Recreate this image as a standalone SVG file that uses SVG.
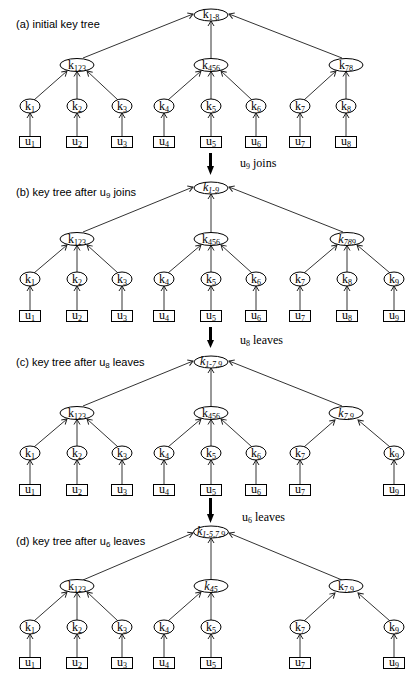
<svg xmlns="http://www.w3.org/2000/svg" width="414" height="676" viewBox="0 0 414 676">
<defs>
<marker id="a" viewBox="-7 -5 9 10" refX="0" refY="0" markerWidth="9" markerHeight="10" markerUnits="userSpaceOnUse" orient="auto" overflow="visible">
<path d="M-5,-3 L0,0 L-5,3" fill="none" stroke="#222" stroke-width="1"/>
</marker>
</defs>
<style>
.e{fill:#fff;stroke:#000;stroke-width:1}
.b{fill:#fff;stroke:#000;stroke-width:1}
.t{font-family:"Liberation Serif","Times New Roman",serif;font-size:12px;fill:#000;text-anchor:middle}
.l{font-family:"Liberation Serif","Times New Roman",serif;font-size:12px;fill:#000}
.s{font-size:8px}
.i{font-style:italic}
.ttl{font-family:"Liberation Sans",Arial,sans-serif;font-size:11px;fill:#000}
.ss{font-size:8px}
.c line{stroke:#333;stroke-width:1;marker-end:url(#a)}
.big{stroke:#000;stroke-width:3}
</style>
<rect width="414" height="676" fill="#fff"/>

<!-- Titles and step labels -->
<text class="ttl" x="16" y="28">(a) initial key tree</text>
<text class="ttl" x="16" y="196">(b) key tree after u<tspan class="ss" dy="2">9</tspan><tspan dy="-2"> joins</tspan></text>
<text class="ttl" x="16" y="366">(c) key tree after u<tspan class="ss" dy="2">8</tspan><tspan dy="-2"> leaves</tspan></text>
<text class="ttl" x="16" y="545">(d) key tree after u<tspan class="ss" dy="2">6</tspan><tspan dy="-2"> leaves</tspan></text>

<g id="step1"><line class="big" x1="210.5" y1="153" x2="210.5" y2="167"/><polygon points="207,166 214,166 210.5,175"/></g>
<text class="l" x="240" y="167">u<tspan class="s" dy="2">9</tspan><tspan dy="-2"> joins</tspan></text>
<g id="step2"><line class="big" x1="210.5" y1="327" x2="210.5" y2="341"/><polygon points="207,340 214,340 210.5,348"/></g>
<text class="l" x="240" y="344">u<tspan class="s" dy="2">8</tspan><tspan dy="-2"> leaves</tspan></text>
<g id="step3"><line class="big" x1="210.5" y1="498" x2="210.5" y2="515"/><polygon points="207,514 214,514 210.5,523"/></g>
<text class="l" x="242" y="521">u<tspan class="s" dy="2">6</tspan><tspan dy="-2"> leaves</tspan></text>

<!-- Connectors -->
<g id="connectors" class="c">
<!-- (a) -->
<line x1="30" y1="140" x2="30" y2="113"/>
<line x1="77" y1="140" x2="77" y2="113"/>
<line x1="122" y1="140" x2="122" y2="113"/>
<line x1="164" y1="140" x2="164" y2="113"/>
<line x1="211" y1="140" x2="211" y2="113"/>
<line x1="256" y1="140" x2="256" y2="113"/>
<line x1="300" y1="140" x2="300" y2="113"/>
<line x1="346" y1="140" x2="346" y2="113"/>
<line x1="34" y1="100" x2="67" y2="71"/>
<line x1="77" y1="99" x2="77" y2="71.5"/>
<line x1="118" y1="100" x2="87" y2="71"/>
<line x1="168" y1="100" x2="201" y2="71"/>
<line x1="211" y1="99" x2="211" y2="71.5"/>
<line x1="252" y1="100" x2="221" y2="71"/>
<line x1="304" y1="100" x2="336" y2="71"/>
<line x1="346" y1="99" x2="346" y2="71.5"/>
<line x1="83" y1="58" x2="193" y2="14"/>
<line x1="211" y1="58" x2="211" y2="21"/>
<line x1="342" y1="58" x2="229" y2="14"/>
<!-- (b) -->
<line x1="30" y1="314" x2="30" y2="286"/>
<line x1="77" y1="314" x2="77" y2="286"/>
<line x1="122" y1="314" x2="122" y2="286"/>
<line x1="164" y1="314" x2="164" y2="286"/>
<line x1="211" y1="314" x2="211" y2="286"/>
<line x1="256" y1="314" x2="256" y2="286"/>
<line x1="300" y1="314" x2="300" y2="286"/>
<line x1="347" y1="314" x2="347" y2="286"/>
<line x1="394" y1="314" x2="394" y2="286"/>
<line x1="34" y1="273" x2="67" y2="245"/>
<line x1="77" y1="272" x2="77" y2="245.5"/>
<line x1="118" y1="273" x2="87" y2="245"/>
<line x1="168" y1="273" x2="201" y2="245"/>
<line x1="211" y1="272" x2="211" y2="245.5"/>
<line x1="252" y1="273" x2="221" y2="245"/>
<line x1="304" y1="273" x2="337" y2="245"/>
<line x1="347" y1="272" x2="347" y2="245.5"/>
<line x1="390" y1="273" x2="357" y2="245"/>
<line x1="83" y1="232" x2="193" y2="187"/>
<line x1="211" y1="232" x2="211" y2="194"/>
<line x1="343" y1="232" x2="229" y2="187"/>
<!-- (c) -->
<line x1="30" y1="488" x2="30" y2="460"/>
<line x1="77" y1="488" x2="77" y2="460"/>
<line x1="122" y1="488" x2="122" y2="460"/>
<line x1="164" y1="488" x2="164" y2="460"/>
<line x1="211" y1="488" x2="211" y2="460"/>
<line x1="256" y1="488" x2="256" y2="460"/>
<line x1="300" y1="488" x2="300" y2="460"/>
<line x1="394" y1="488" x2="394" y2="460"/>
<line x1="34" y1="447" x2="67" y2="419"/>
<line x1="77" y1="446" x2="77" y2="419.5"/>
<line x1="118" y1="447" x2="87" y2="419"/>
<line x1="168" y1="447" x2="201" y2="419"/>
<line x1="211" y1="446" x2="211" y2="419.5"/>
<line x1="252" y1="447" x2="221" y2="419"/>
<line x1="304" y1="447" x2="335" y2="420"/>
<line x1="390" y1="447" x2="358" y2="420"/>
<line x1="83" y1="406" x2="193" y2="361"/>
<line x1="211" y1="406" x2="211" y2="368"/>
<line x1="342" y1="406" x2="229" y2="361"/>
<!-- (d) -->
<line x1="30" y1="661" x2="30" y2="634"/>
<line x1="77" y1="661" x2="77" y2="634"/>
<line x1="122" y1="661" x2="122" y2="634"/>
<line x1="164" y1="661" x2="164" y2="634"/>
<line x1="211" y1="661" x2="211" y2="634"/>
<line x1="300" y1="661" x2="300" y2="634"/>
<line x1="394" y1="661" x2="394" y2="634"/>
<line x1="34" y1="621" x2="67" y2="592"/>
<line x1="77" y1="620" x2="77" y2="592.5"/>
<line x1="118" y1="621" x2="87" y2="592"/>
<line x1="168" y1="621" x2="201" y2="592"/>
<line x1="211" y1="620" x2="211" y2="592.5"/>
<line x1="304" y1="621" x2="335" y2="593"/>
<line x1="390" y1="621" x2="358" y2="593"/>
<line x1="83" y1="580" x2="193" y2="533"/>
<line x1="211" y1="579" x2="211" y2="538"/>
<line x1="342" y1="580" x2="229" y2="533"/>
</g>

<!-- Tree (a) -->
<g id="a-root"><ellipse class="e" cx="211" cy="15" rx="17" ry="6"/><text class="t" x="211" y="18">k<tspan class="s" dy="2">1-8</tspan></text></g>
<g id="a-k123"><ellipse class="e" cx="77" cy="65" rx="17" ry="6.5"/><text class="t" x="77" y="68.5">k<tspan class="s" dy="2.5">123</tspan></text></g>
<g id="a-k456"><ellipse class="e" cx="211" cy="65" rx="17" ry="6.5"/><text class="t" x="211" y="68.5">k<tspan class="s" dy="2.5">456</tspan></text></g>
<g id="a-k78"><ellipse class="e" cx="346" cy="65" rx="17" ry="6.5"/><text class="t" x="346" y="68.5">k<tspan class="s" dy="2.5">78</tspan></text></g>
<g id="a-k1"><ellipse class="e" cx="30" cy="106" rx="10" ry="7"/><text class="t" x="30" y="109.5">k<tspan class="s" dy="2">1</tspan></text></g>
<g id="a-k2"><ellipse class="e" cx="77" cy="106" rx="10" ry="7"/><text class="t" x="77" y="109.5">k<tspan class="s" dy="2">2</tspan></text></g>
<g id="a-k3"><ellipse class="e" cx="122" cy="106" rx="10" ry="7"/><text class="t" x="122" y="109.5">k<tspan class="s" dy="2">3</tspan></text></g>
<g id="a-k4"><ellipse class="e" cx="164" cy="106" rx="10" ry="7"/><text class="t" x="164" y="109.5">k<tspan class="s" dy="2">4</tspan></text></g>
<g id="a-k5"><ellipse class="e" cx="211" cy="106" rx="10" ry="7"/><text class="t" x="211" y="109.5">k<tspan class="s" dy="2">5</tspan></text></g>
<g id="a-k6"><ellipse class="e" cx="256" cy="106" rx="10" ry="7"/><text class="t" x="256" y="109.5">k<tspan class="s" dy="2">6</tspan></text></g>
<g id="a-k7"><ellipse class="e" cx="300" cy="106" rx="10" ry="7"/><text class="t" x="300" y="109.5">k<tspan class="s" dy="2">7</tspan></text></g>
<g id="a-k8"><ellipse class="e" cx="346" cy="106" rx="10" ry="7"/><text class="t" x="346" y="109.5">k<tspan class="s" dy="2">8</tspan></text></g>
<g id="a-u1"><rect class="b" x="19.5" y="136.5" width="21" height="11"/><text class="t" x="30" y="145">u<tspan class="s" dy="2">1</tspan></text></g>
<g id="a-u2"><rect class="b" x="66.5" y="136.5" width="21" height="11"/><text class="t" x="77" y="145">u<tspan class="s" dy="2">2</tspan></text></g>
<g id="a-u3"><rect class="b" x="111.5" y="136.5" width="21" height="11"/><text class="t" x="122" y="145">u<tspan class="s" dy="2">3</tspan></text></g>
<g id="a-u4"><rect class="b" x="153.5" y="136.5" width="21" height="11"/><text class="t" x="164" y="145">u<tspan class="s" dy="2">4</tspan></text></g>
<g id="a-u5"><rect class="b" x="200.5" y="136.5" width="21" height="11"/><text class="t" x="211" y="145">u<tspan class="s" dy="2">5</tspan></text></g>
<g id="a-u6"><rect class="b" x="245.5" y="136.5" width="21" height="11"/><text class="t" x="256" y="145">u<tspan class="s" dy="2">6</tspan></text></g>
<g id="a-u7"><rect class="b" x="289.5" y="136.5" width="21" height="11"/><text class="t" x="300" y="145">u<tspan class="s" dy="2">7</tspan></text></g>
<g id="a-u8"><rect class="b" x="335.5" y="136.5" width="21" height="11"/><text class="t" x="346" y="145">u<tspan class="s" dy="2">8</tspan></text></g>

<!-- Tree (b) -->
<g id="b-root"><ellipse class="e" cx="211" cy="188" rx="17" ry="6"/><text class="t i" x="211" y="191">k<tspan class="s" dy="2">1-9</tspan></text></g>
<g id="b-k123"><ellipse class="e" cx="77" cy="239" rx="17" ry="6.5"/><text class="t" x="77" y="242.5">k<tspan class="s" dy="2.5">123</tspan></text></g>
<g id="b-k456"><ellipse class="e" cx="211" cy="239" rx="17" ry="6.5"/><text class="t" x="211" y="242.5">k<tspan class="s" dy="2.5">456</tspan></text></g>
<g id="b-k789"><ellipse class="e" cx="347" cy="239" rx="17" ry="6.5"/><text class="t i" x="347" y="242.5">k<tspan class="s" dy="2.5">789</tspan></text></g>
<g id="b-k1"><ellipse class="e" cx="30" cy="279" rx="10" ry="7"/><text class="t" x="30" y="282.5">k<tspan class="s" dy="2">1</tspan></text></g>
<g id="b-k2"><ellipse class="e" cx="77" cy="279" rx="10" ry="7"/><text class="t" x="77" y="282.5">k<tspan class="s" dy="2">2</tspan></text></g>
<g id="b-k3"><ellipse class="e" cx="122" cy="279" rx="10" ry="7"/><text class="t" x="122" y="282.5">k<tspan class="s" dy="2">3</tspan></text></g>
<g id="b-k4"><ellipse class="e" cx="164" cy="279" rx="10" ry="7"/><text class="t" x="164" y="282.5">k<tspan class="s" dy="2">4</tspan></text></g>
<g id="b-k5"><ellipse class="e" cx="211" cy="279" rx="10" ry="7"/><text class="t" x="211" y="282.5">k<tspan class="s" dy="2">5</tspan></text></g>
<g id="b-k6"><ellipse class="e" cx="256" cy="279" rx="10" ry="7"/><text class="t" x="256" y="282.5">k<tspan class="s" dy="2">6</tspan></text></g>
<g id="b-k7"><ellipse class="e" cx="300" cy="279" rx="10" ry="7"/><text class="t" x="300" y="282.5">k<tspan class="s" dy="2">7</tspan></text></g>
<g id="b-k8"><ellipse class="e" cx="347" cy="279" rx="10" ry="7"/><text class="t" x="347" y="282.5">k<tspan class="s" dy="2">8</tspan></text></g>
<g id="b-k9"><ellipse class="e" cx="394" cy="279" rx="10" ry="7"/><text class="t" x="394" y="282.5">k<tspan class="s" dy="2">9</tspan></text></g>
<g id="b-u1"><rect class="b" x="19.5" y="310.5" width="21" height="11"/><text class="t" x="30" y="319">u<tspan class="s" dy="2">1</tspan></text></g>
<g id="b-u2"><rect class="b" x="66.5" y="310.5" width="21" height="11"/><text class="t" x="77" y="319">u<tspan class="s" dy="2">2</tspan></text></g>
<g id="b-u3"><rect class="b" x="111.5" y="310.5" width="21" height="11"/><text class="t" x="122" y="319">u<tspan class="s" dy="2">3</tspan></text></g>
<g id="b-u4"><rect class="b" x="153.5" y="310.5" width="21" height="11"/><text class="t" x="164" y="319">u<tspan class="s" dy="2">4</tspan></text></g>
<g id="b-u5"><rect class="b" x="200.5" y="310.5" width="21" height="11"/><text class="t" x="211" y="319">u<tspan class="s" dy="2">5</tspan></text></g>
<g id="b-u6"><rect class="b" x="245.5" y="310.5" width="21" height="11"/><text class="t" x="256" y="319">u<tspan class="s" dy="2">6</tspan></text></g>
<g id="b-u7"><rect class="b" x="289.5" y="310.5" width="21" height="11"/><text class="t" x="300" y="319">u<tspan class="s" dy="2">7</tspan></text></g>
<g id="b-u8"><rect class="b" x="336.5" y="310.5" width="21" height="11"/><text class="t" x="347" y="319">u<tspan class="s" dy="2">8</tspan></text></g>
<g id="b-u9"><rect class="b" x="383.5" y="310.5" width="21" height="11"/><text class="t" x="394" y="319">u<tspan class="s" dy="2">9</tspan></text></g>

<!-- Tree (c) -->
<g id="c-root"><ellipse class="e" cx="211" cy="362" rx="17" ry="6"/><text class="t i" x="211" y="365">k<tspan class="s" dy="2">1-7,9</tspan></text></g>
<g id="c-k123"><ellipse class="e" cx="77" cy="413" rx="17" ry="6.5"/><text class="t" x="77" y="416.5">k<tspan class="s" dy="2.5">123</tspan></text></g>
<g id="c-k456"><ellipse class="e" cx="211" cy="413" rx="17" ry="6.5"/><text class="t" x="211" y="416.5">k<tspan class="s" dy="2.5">456</tspan></text></g>
<g id="c-k79"><ellipse class="e" cx="346" cy="413" rx="17" ry="6.5"/><text class="t i" x="346" y="416.5">k<tspan class="s" dy="2.5">7,9</tspan></text></g>
<g id="c-k1"><ellipse class="e" cx="30" cy="453" rx="10" ry="7"/><text class="t" x="30" y="456.5">k<tspan class="s" dy="2">1</tspan></text></g>
<g id="c-k2"><ellipse class="e" cx="77" cy="453" rx="10" ry="7"/><text class="t" x="77" y="456.5">k<tspan class="s" dy="2">2</tspan></text></g>
<g id="c-k3"><ellipse class="e" cx="122" cy="453" rx="10" ry="7"/><text class="t" x="122" y="456.5">k<tspan class="s" dy="2">3</tspan></text></g>
<g id="c-k4"><ellipse class="e" cx="164" cy="453" rx="10" ry="7"/><text class="t" x="164" y="456.5">k<tspan class="s" dy="2">4</tspan></text></g>
<g id="c-k5"><ellipse class="e" cx="211" cy="453" rx="10" ry="7"/><text class="t" x="211" y="456.5">k<tspan class="s" dy="2">5</tspan></text></g>
<g id="c-k6"><ellipse class="e" cx="256" cy="453" rx="10" ry="7"/><text class="t" x="256" y="456.5">k<tspan class="s" dy="2">6</tspan></text></g>
<g id="c-k7"><ellipse class="e" cx="300" cy="453" rx="10" ry="7"/><text class="t" x="300" y="456.5">k<tspan class="s" dy="2">7</tspan></text></g>
<g id="c-k9"><ellipse class="e" cx="394" cy="453" rx="10" ry="7"/><text class="t" x="394" y="456.5">k<tspan class="s" dy="2">9</tspan></text></g>
<g id="c-u1"><rect class="b" x="19.5" y="484.5" width="21" height="11"/><text class="t" x="30" y="493">u<tspan class="s" dy="2">1</tspan></text></g>
<g id="c-u2"><rect class="b" x="66.5" y="484.5" width="21" height="11"/><text class="t" x="77" y="493">u<tspan class="s" dy="2">2</tspan></text></g>
<g id="c-u3"><rect class="b" x="111.5" y="484.5" width="21" height="11"/><text class="t" x="122" y="493">u<tspan class="s" dy="2">3</tspan></text></g>
<g id="c-u4"><rect class="b" x="153.5" y="484.5" width="21" height="11"/><text class="t" x="164" y="493">u<tspan class="s" dy="2">4</tspan></text></g>
<g id="c-u5"><rect class="b" x="200.5" y="484.5" width="21" height="11"/><text class="t" x="211" y="493">u<tspan class="s" dy="2">5</tspan></text></g>
<g id="c-u6"><rect class="b" x="245.5" y="484.5" width="21" height="11"/><text class="t" x="256" y="493">u<tspan class="s" dy="2">6</tspan></text></g>
<g id="c-u7"><rect class="b" x="289.5" y="484.5" width="21" height="11"/><text class="t" x="300" y="493">u<tspan class="s" dy="2">7</tspan></text></g>
<g id="c-u9"><rect class="b" x="383.5" y="484.5" width="21" height="11"/><text class="t" x="394" y="493">u<tspan class="s" dy="2">9</tspan></text></g>

<!-- Tree (d) -->
<g id="d-root"><ellipse class="e" cx="211" cy="532" rx="17.5" ry="6"/><text class="t i" x="211" y="535">k<tspan class="s" dy="2">1-5,7,9</tspan></text></g>
<g id="d-k123"><ellipse class="e" cx="77" cy="586" rx="17" ry="6.5"/><text class="t" x="77" y="589.5">k<tspan class="s" dy="2.5">123</tspan></text></g>
<g id="d-k45"><ellipse class="e" cx="211" cy="586" rx="17" ry="6.5"/><text class="t i" x="211" y="589.5">k<tspan class="s" dy="2.5">45</tspan></text></g>
<g id="d-k79"><ellipse class="e" cx="346" cy="586" rx="17" ry="6.5"/><text class="t" x="346" y="589.5">k<tspan class="s" dy="2.5">7,9</tspan></text></g>
<g id="d-k1"><ellipse class="e" cx="30" cy="627" rx="10" ry="7"/><text class="t" x="30" y="630.5">k<tspan class="s" dy="2">1</tspan></text></g>
<g id="d-k2"><ellipse class="e" cx="77" cy="627" rx="10" ry="7"/><text class="t" x="77" y="630.5">k<tspan class="s" dy="2">2</tspan></text></g>
<g id="d-k3"><ellipse class="e" cx="122" cy="627" rx="10" ry="7"/><text class="t" x="122" y="630.5">k<tspan class="s" dy="2">3</tspan></text></g>
<g id="d-k4"><ellipse class="e" cx="164" cy="627" rx="10" ry="7"/><text class="t" x="164" y="630.5">k<tspan class="s" dy="2">4</tspan></text></g>
<g id="d-k5"><ellipse class="e" cx="211" cy="627" rx="10" ry="7"/><text class="t" x="211" y="630.5">k<tspan class="s" dy="2">5</tspan></text></g>
<g id="d-k7"><ellipse class="e" cx="300" cy="627" rx="10" ry="7"/><text class="t" x="300" y="630.5">k<tspan class="s" dy="2">7</tspan></text></g>
<g id="d-k9"><ellipse class="e" cx="394" cy="627" rx="10" ry="7"/><text class="t" x="394" y="630.5">k<tspan class="s" dy="2">9</tspan></text></g>
<g id="d-u1"><rect class="b" x="19.5" y="657.5" width="21" height="11"/><text class="t" x="30" y="666">u<tspan class="s" dy="2">1</tspan></text></g>
<g id="d-u2"><rect class="b" x="66.5" y="657.5" width="21" height="11"/><text class="t" x="77" y="666">u<tspan class="s" dy="2">2</tspan></text></g>
<g id="d-u3"><rect class="b" x="111.5" y="657.5" width="21" height="11"/><text class="t" x="122" y="666">u<tspan class="s" dy="2">3</tspan></text></g>
<g id="d-u4"><rect class="b" x="153.5" y="657.5" width="21" height="11"/><text class="t" x="164" y="666">u<tspan class="s" dy="2">4</tspan></text></g>
<g id="d-u5"><rect class="b" x="200.5" y="657.5" width="21" height="11"/><text class="t" x="211" y="666">u<tspan class="s" dy="2">5</tspan></text></g>
<g id="d-u7"><rect class="b" x="289.5" y="657.5" width="21" height="11"/><text class="t" x="300" y="666">u<tspan class="s" dy="2">7</tspan></text></g>
<g id="d-u9"><rect class="b" x="383.5" y="657.5" width="21" height="11"/><text class="t" x="394" y="666">u<tspan class="s" dy="2">9</tspan></text></g>
</svg>
